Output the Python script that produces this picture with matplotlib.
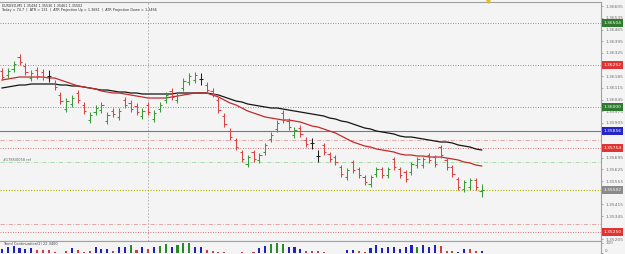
import matplotlib
matplotlib.use('Agg')
import matplotlib.pyplot as plt
import matplotlib.transforms as mtransforms
import numpy as np

# EURUSD M5 bars
high = [1.36234, 1.36234, 1.36276, 1.36318, 1.36264, 1.36222, 1.36240, 1.36228, 1.36222, 1.36162,
        1.36090, 1.36054, 1.36072, 1.36102, 1.36030, 1.35970, 1.36012, 1.36030, 1.35970, 1.35994,
        1.35994, 1.36060, 1.36042, 1.36024, 1.35994, 1.36030, 1.35982, 1.36030, 1.36090, 1.36114,
        1.36090, 1.36174, 1.36204, 1.36210, 1.36204, 1.36150, 1.36114, 1.36060, 1.35964, 1.35874,
        1.35814, 1.35742, 1.35712, 1.35742, 1.35724, 1.35784, 1.35850, 1.35922, 1.35982, 1.35934,
        1.35880, 1.35892, 1.35820, 1.35814, 1.35742, 1.35784, 1.35730, 1.35712, 1.35652, 1.35634,
        1.35682, 1.35640, 1.35592, 1.35592, 1.35640, 1.35640, 1.35640, 1.35700, 1.35640, 1.35622,
        1.35670, 1.35700, 1.35700, 1.35724, 1.35712, 1.35772, 1.35694, 1.35652, 1.35580, 1.35562,
        1.35574, 1.35574, 1.35536]
low = [1.36162, 1.36174, 1.36210, 1.36252, 1.36192, 1.36156, 1.36168, 1.36162, 1.36150, 1.36102,
       1.36018, 1.35970, 1.36000, 1.36024, 1.35958, 1.35904, 1.35952, 1.35964, 1.35898, 1.35940,
       1.35922, 1.35994, 1.35970, 1.35952, 1.35928, 1.35952, 1.35910, 1.35970, 1.36024, 1.36042,
       1.36024, 1.36096, 1.36132, 1.36144, 1.36132, 1.36084, 1.36060, 1.35964, 1.35880, 1.35802,
       1.35742, 1.35670, 1.35640, 1.35670, 1.35664, 1.35712, 1.35790, 1.35850, 1.35904, 1.35862,
       1.35814, 1.35820, 1.35760, 1.35748, 1.35670, 1.35712, 1.35670, 1.35652, 1.35580, 1.35562,
       1.35604, 1.35574, 1.35532, 1.35520, 1.35580, 1.35574, 1.35574, 1.35622, 1.35574, 1.35550,
       1.35592, 1.35634, 1.35634, 1.35664, 1.35640, 1.35694, 1.35622, 1.35580, 1.35502, 1.35490,
       1.35502, 1.35502, 1.35461]
opn = [1.36219, 1.36192, 1.36228, 1.36303, 1.36249, 1.36174, 1.36225, 1.36213, 1.36186, 1.36147,
       1.36075, 1.35988, 1.36018, 1.36087, 1.36015, 1.35922, 1.35970, 1.35982, 1.35916, 1.35979,
       1.35940, 1.36045, 1.36027, 1.36009, 1.35946, 1.36015, 1.35928, 1.35988, 1.36042, 1.36099,
       1.36042, 1.36114, 1.36150, 1.36162, 1.36168, 1.36135, 1.36099, 1.36045, 1.35949, 1.35859,
       1.35799, 1.35727, 1.35658, 1.35727, 1.35682, 1.35730, 1.35808, 1.35868, 1.35967, 1.35919,
       1.35832, 1.35877, 1.35805, 1.35781, 1.35706, 1.35769, 1.35715, 1.35697, 1.35637, 1.35580,
       1.35667, 1.35625, 1.35577, 1.35538, 1.35598, 1.35625, 1.35592, 1.35685, 1.35625, 1.35607,
       1.35610, 1.35652, 1.35652, 1.35709, 1.35697, 1.35757, 1.35679, 1.35637, 1.35565, 1.35508,
       1.35520, 1.35559, 1.35494]
close = [1.36180, 1.36219, 1.36261, 1.36270, 1.36210, 1.36207, 1.36186, 1.36180, 1.36186, 1.36120,
         1.36036, 1.36039, 1.36057, 1.36042, 1.35976, 1.35955, 1.35997, 1.36015, 1.35955, 1.35958,
         1.35979, 1.36012, 1.35988, 1.35970, 1.35979, 1.35970, 1.35967, 1.36015, 1.36075, 1.36060,
         1.36075, 1.36159, 1.36189, 1.36195, 1.36168, 1.36102, 1.36078, 1.35982, 1.35898, 1.35820,
         1.35760, 1.35688, 1.35697, 1.35688, 1.35709, 1.35769, 1.35835, 1.35907, 1.35922, 1.35880,
         1.35865, 1.35838, 1.35778, 1.35781, 1.35706, 1.35730, 1.35688, 1.35670, 1.35598, 1.35619,
         1.35622, 1.35592, 1.35550, 1.35577, 1.35625, 1.35592, 1.35625, 1.35640, 1.35592, 1.35568,
         1.35655, 1.35685, 1.35685, 1.35682, 1.35658, 1.35712, 1.35640, 1.35598, 1.35520, 1.35547,
         1.35559, 1.35520, 1.35502]

ma_fast = [1.36162, 1.36168, 1.36174, 1.36180, 1.36180, 1.36180, 1.36180, 1.36180, 1.36174, 1.36174,
           1.36162, 1.36150, 1.36138, 1.36126, 1.36120, 1.36114, 1.36108, 1.36096, 1.36090, 1.36084,
           1.36084, 1.36078, 1.36072, 1.36066, 1.36060, 1.36054, 1.36054, 1.36054, 1.36054, 1.36060,
           1.36066, 1.36072, 1.36078, 1.36084, 1.36084, 1.36084, 1.36072, 1.36060, 1.36042, 1.36024,
           1.36012, 1.35994, 1.35976, 1.35964, 1.35952, 1.35940, 1.35934, 1.35928, 1.35922, 1.35922,
           1.35916, 1.35910, 1.35898, 1.35886, 1.35880, 1.35868, 1.35856, 1.35844, 1.35826, 1.35808,
           1.35790, 1.35778, 1.35766, 1.35760, 1.35748, 1.35742, 1.35736, 1.35730, 1.35718, 1.35712,
           1.35712, 1.35706, 1.35706, 1.35700, 1.35700, 1.35700, 1.35694, 1.35688, 1.35682, 1.35670,
           1.35664, 1.35652, 1.35646]
ma_slow = [1.36114, 1.36120, 1.36126, 1.36132, 1.36132, 1.36138, 1.36138, 1.36138, 1.36138, 1.36138,
           1.36132, 1.36132, 1.36126, 1.36126, 1.36120, 1.36114, 1.36108, 1.36102, 1.36102, 1.36096,
           1.36090, 1.36090, 1.36084, 1.36084, 1.36078, 1.36078, 1.36078, 1.36078, 1.36078, 1.36078,
           1.36084, 1.36084, 1.36084, 1.36084, 1.36084, 1.36084, 1.36078, 1.36072, 1.36060, 1.36048,
           1.36036, 1.36030, 1.36018, 1.36012, 1.36006, 1.36000, 1.35994, 1.35994, 1.35988, 1.35982,
           1.35976, 1.35970, 1.35964, 1.35958, 1.35952, 1.35946, 1.35934, 1.35928, 1.35916, 1.35910,
           1.35898, 1.35886, 1.35874, 1.35868, 1.35856, 1.35850, 1.35844, 1.35838, 1.35826, 1.35820,
           1.35820, 1.35814, 1.35808, 1.35802, 1.35796, 1.35790, 1.35790, 1.35784, 1.35772, 1.35766,
           1.35760, 1.35748, 1.35742]

# lower indicator histogram
trend_val = [40, 62, 75, 58, 42, 55, 35, 35, 35, 12,
             8, 25, 52, 35, 18, 28, 62, 42, 42, 28,
             65, 65, 82, 35, 62, 45, 62, 78, 92, 68,
             88, 102, 102, 62, 62, 35, 25, 15, 10, 8,
             8, 10, 8, 10, 58, 78, 95, 102, 95, 62,
             68, 45, 20, 20, 20, 12, 8, 8, 8, 35,
             35, 25, 18, 58, 82, 52, 68, 62, 42, 68,
             82, 62, 85, 62, 82, 75, 28, 25, 18, 45,
             48, 28, 25]
trend_col = list('bbbbbbrrrrrrbrrrbbbrbbgrbrbggbggg'
                 'bbrrrrrrrrrbbggg' 'bbbrrrrrrrbbrrbbbbbbbbgbbbrrrbbrr')

# horizontal levels
lvl_green_dot = [1.36504, 1.36000]
lvl_red_dot = [1.36252, 1.35754, 1.35250]
lvl_blue = 1.35856
lvl_red_dashdot = [1.35802, 1.35298]
lvl_green_dashdot = 1.35670
last_price = 1.35502

price_ticks = [1.36605, 1.36535, 1.36465, 1.36395, 1.36325, 1.36255, 1.36185, 1.36115, 1.36045,
               1.35975, 1.35905, 1.35835, 1.35765, 1.35695, 1.35625, 1.35555, 1.35485, 1.35415,
               1.35345, 1.35275, 1.35205]

header1 = 'EURUSD,M5 1.35494 1.35536 1.35461 1.35502'
header2 = 'Today = 74.7  |  ATR = 131  |  ATR Projection Up = 1.3681  |  ATR Projection Down = 1.3466'
ref_text = '#1785/0058 ref'
ind_text = 'Trend Continuation(2) 22.3400'
sep_bar = 25

bg = '#f4f4f4'
fig = plt.figure(figsize=(6.25, 2.54), dpi=100, facecolor=bg)
ax = fig.add_axes([0, 0.0512, 0.9616, 0.9409], facecolor=bg)
ax2 = fig.add_axes([0, 0.0, 0.9616, 0.0512], facecolor=bg)

n = len(close)
x = np.arange(n)
cols = []
for o, c in zip(opn, close):
    if c > o:
        cols.append('#3a9a3a')
    elif c < o:
        cols.append('#d84444')
    else:
        cols.append('#202020')

ax.vlines(x, low, high, colors=cols, lw=0.75, zorder=4)
ax.hlines(opn, x - 0.38, x, colors=cols, lw=0.75, zorder=4)
ax.hlines(close, x, x + 0.38, colors=cols, lw=0.75, zorder=4)

ax.plot(x, ma_slow, color='#151515', lw=0.9, zorder=3)
ax.plot(x, ma_fast, color='#c42a2a', lw=0.9, zorder=3)

for v in lvl_green_dot:
    ax.axhline(v, color='#3f8f3f', lw=0.6, ls=(0, (1, 2)), zorder=2)
for v in lvl_red_dot:
    ax.axhline(v, color='#d04848', lw=0.6, ls=(0, (1, 2)), zorder=2)
for v in lvl_red_dashdot:
    ax.axhline(v, color='#e09a9a', lw=0.6, ls=(0, (5, 2, 1, 2)), zorder=2)
ax.axhline(lvl_green_dashdot, color='#9fd89f', lw=0.6, ls=(0, (5, 2, 1, 2)), zorder=2)
ax.axhline(lvl_blue, color='#7474a8', lw=0.8, zorder=2)
ax.axhline(last_price, color='#b0b000', lw=0.8, ls=(0, (1, 1.5)), zorder=2)
ax.axvline(sep_bar, color='#a8a8a8', lw=0.6, ls=(0, (2, 2)), zorder=1)

# price labels in boxes
boxes = [(v, '#2f7a2f') for v in lvl_green_dot] + [(v, '#e03434') for v in lvl_red_dot]
boxes += [(lvl_blue, '#2424c8'), (last_price, '#8a8a8a')]
box_vals = [v for v, c in boxes]

# the boxes hide the scale labels they sit on
shown_ticks = [t for t in price_ticks if min(abs(t - b) for b in box_vals) > 0.00025]

ax.set_xlim(-0.34, 102.4)
ax.set_ylim(1.35196, 1.36630)
ax.yaxis.tick_right()
ax.set_yticks(shown_ticks)
ax.set_yticklabels(['%.5f' % v for v in shown_ticks])
ax.tick_params(axis='y', labelsize=3.2, length=1.5, width=0.4, pad=1.5, colors='#707070')
ax.set_xticks([])
ax.spines['left'].set_visible(False)
for s in ['top', 'right', 'bottom']:
    ax.spines[s].set_color('#a0a0a0')
    ax.spines[s].set_linewidth(0.8)

tr = mtransforms.blended_transform_factory(ax.transAxes, ax.transData)
for v, c in boxes:
    ax.text(1.004, v, '%.5f' % v, transform=tr, fontsize=3.2, color='white', va='center',
            ha='left', zorder=10, clip_on=False,
            bbox=dict(boxstyle='square,pad=0.35', fc=c, ec='none'))

# top marker of current bar
trx = mtransforms.blended_transform_factory(ax.transData, ax.transAxes)
ax.plot([n], [1.005], marker='v', ms=2.5, color='#e0c020', transform=trx, clip_on=False, zorder=10)

ax.text(0.004, 0.993, header1, transform=ax.transAxes, fontsize=2.4, color='#303030', va='top', ha='left')
ax.text(0.004, 0.973, header2, transform=ax.transAxes, fontsize=2.4, color='#303030', va='top', ha='left')
ax.text(0.005, lvl_green_dashdot, ref_text, transform=tr, fontsize=2.5, color='#606060', va='bottom', ha='left')

# indicator panel
icol = {'b': '#2222bb', 'r': '#c84040', 'g': '#2a8a2a'}
ax2.bar(x, trend_val, width=0.36, color=[icol[c] for c in trend_col], zorder=3)
ax2.set_xlim(-0.34, 102.4)
ax2.set_ylim(-5, 125)
ax2.yaxis.tick_right()
ax2.set_yticks([100, 0])
ax2.set_yticklabels(['100', '0'])
ax2.tick_params(axis='y', labelsize=3.0, length=1.5, width=0.4, pad=1.5, colors='#707070')
ax2.get_yticklabels()[0].set_va('center')
ax2.get_yticklabels()[1].set_va('bottom')
ax2.set_xticks([])
ax2.spines['left'].set_visible(False)
ax2.spines['bottom'].set_visible(False)
for s in ['top', 'right']:
    ax2.spines[s].set_color('#a0a0a0')
    ax2.spines[s].set_linewidth(0.8)
ax2.text(0.005, 0.75, ind_text, transform=ax2.transAxes, fontsize=2.5, color='#404040', va='center', ha='left')

fig.savefig('out.png', dpi=100, facecolor=bg)
